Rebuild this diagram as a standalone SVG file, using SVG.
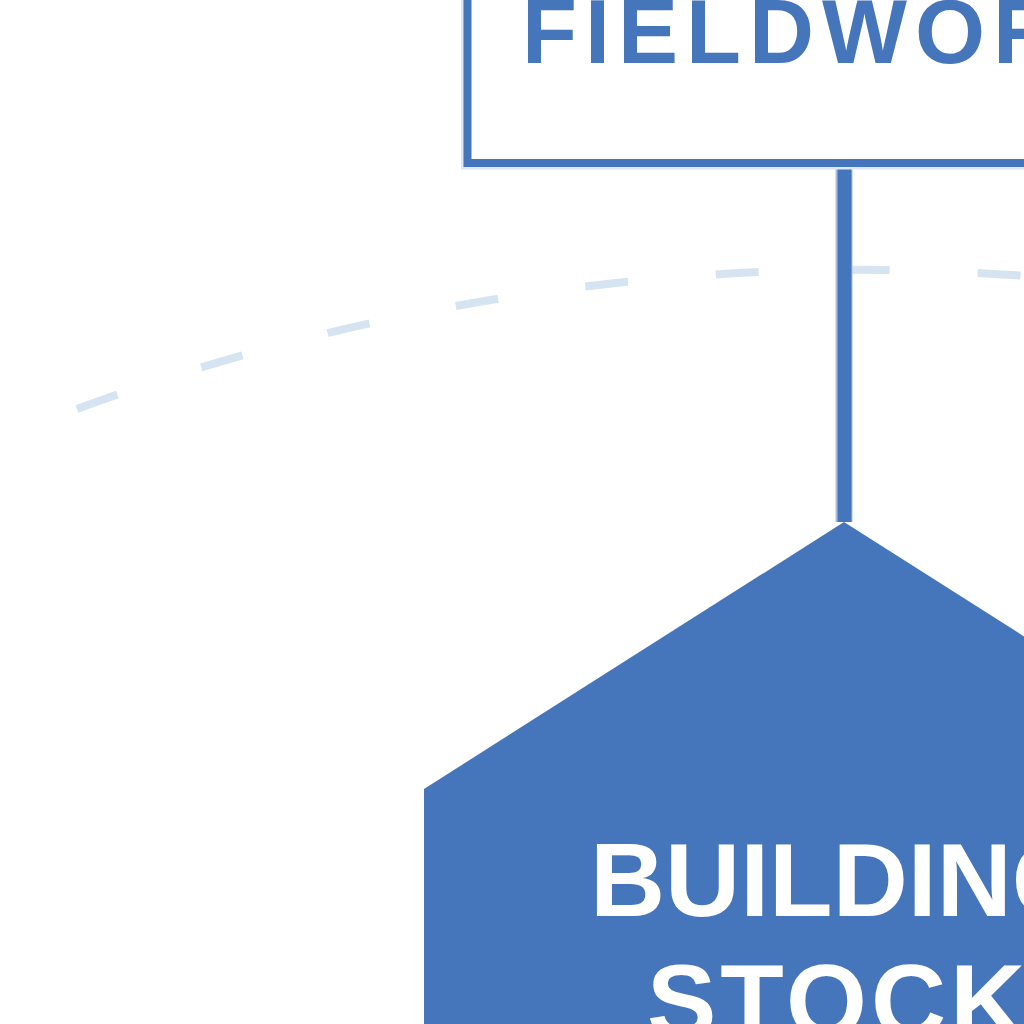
<svg xmlns="http://www.w3.org/2000/svg" width="1024" height="1024" viewBox="0 0 1024 1024">
  <style>
    .lbl { font-family: "Liberation Sans", Arial, sans-serif; font-weight: bold; }
    .blue { fill: #4575bb; }
    .white { fill: #ffffff; }
  </style>
  <rect x="0" y="0" width="1024" height="1024" fill="#ffffff"/>
  <g id="orbit">
    <path d="M 77 409 A 2271 2271 0 0 1 1040 277" fill="none" stroke="#d6e4f2" stroke-width="8" stroke-dasharray="43 88"/>
  </g>
  <g id="connectors">
    <line x1="844" y1="163" x2="844" y2="522" stroke="#a9c0e0" stroke-width="17"/>
    <line x1="844.5" y1="163" x2="844.5" y2="522" stroke="#4575bb" stroke-width="14"/>
  </g>
  <g id="fieldwork">
    <rect x="467.5" y="-100" width="770" height="263" fill="none" stroke="#dde7f3" stroke-width="13"/>
    <rect x="467.5" y="-100" width="770" height="263" fill="#ffffff" stroke="#4575bb" stroke-width="8"/>
    <text class="lbl blue" x="522" y="63" font-size="90" letter-spacing="8">FIELDWORK</text>
  </g>
  <g id="building-stock">
    <polygon points="844,522 1264,789 1264,1100 424,1100 424,789" fill="#4575bb"/>
    <text class="lbl white" x="590" y="916" font-size="104" letter-spacing="0">BUILDING</text>
    <text class="lbl white" x="647" y="1037" font-size="104" letter-spacing="4">STOCK</text>
  </g>
</svg>
